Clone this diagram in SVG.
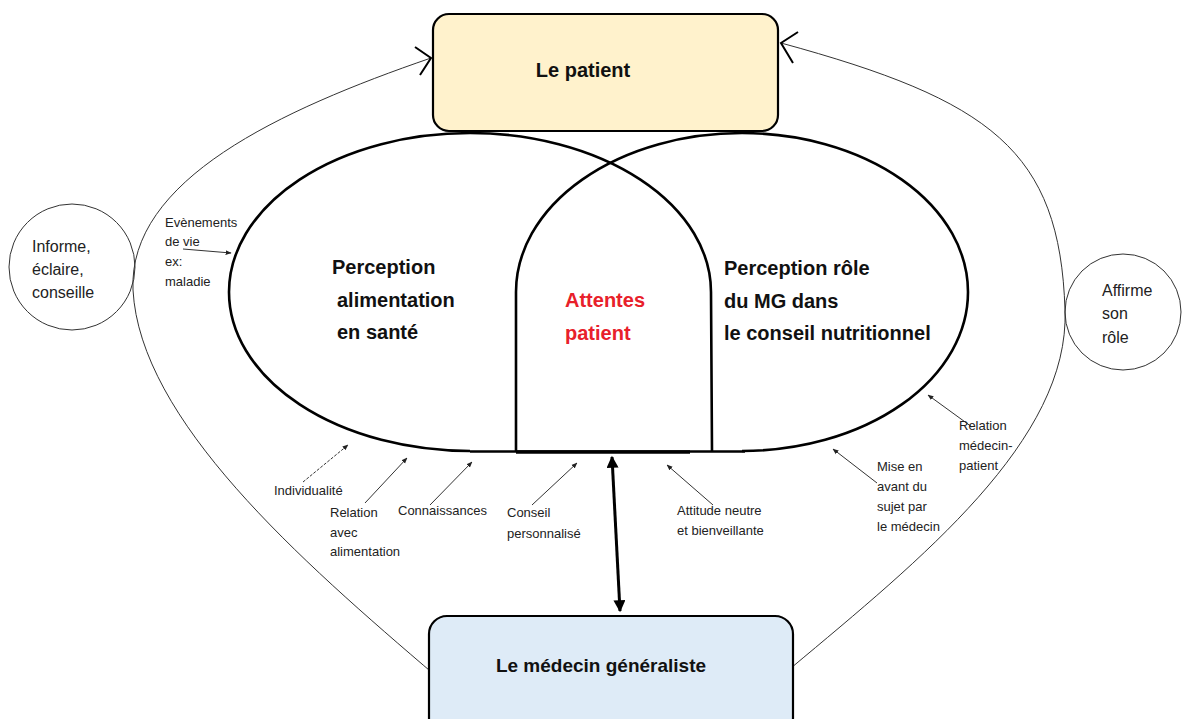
<svg xmlns="http://www.w3.org/2000/svg" width="1182" height="719" viewBox="0 0 1182 719">
<defs>
<style>
.box{stroke:#000;stroke-width:2.2}
.big{font-family:"Liberation Sans",Arial,sans-serif;font-weight:bold;font-size:20px;fill:#111}
.sm{font-family:"Liberation Sans",Arial,sans-serif;font-size:13px;fill:#222}
.md{font-family:"Liberation Sans",Arial,sans-serif;font-size:16px;fill:#222}
.thick{fill:none;stroke:#000;stroke-width:2.6}
.thin{fill:none;stroke:#333;stroke-width:1}
.lab{fill:none;stroke:#333;stroke-width:1}
</style>
<marker id="sa" viewBox="0 0 10 10" refX="9" refY="5" markerWidth="6" markerHeight="6" orient="auto" markerUnits="userSpaceOnUse">
<path d="M0,1 L10,5 L0,9 z" fill="#222"/>
</marker>
<marker id="ba" viewBox="0 0 10 10" refX="9" refY="5" markerWidth="16" markerHeight="12" orient="auto-start-reverse" markerUnits="userSpaceOnUse">
<path d="M0,0 L10,5 L0,10 z" fill="#000"/>
</marker>
</defs>
<rect width="1182" height="719" fill="#fff"/>

<g id="connectors">
<path class="thin" d="M436 676 C300 560,140 420,133 290 C128 180,280 110,431 58"/>
<path d="M415 47 L431 58 L420 75" fill="none" stroke="#000" stroke-width="2"/>
<path class="thin" d="M791 668 C920 560,1070 440,1065 310 C1060 150,990 100,781 43"/>
<path d="M798 32 L781 43 L793 63" fill="none" stroke="#000" stroke-width="2"/>
<line x1="612" y1="457" x2="620" y2="611" stroke="#000" stroke-width="3" marker-start="url(#ba)" marker-end="url(#ba)"/>
<line class="lab" x1="183" y1="249" x2="231" y2="253" marker-end="url(#sa)"/>
<line class="lab" x1="303" y1="482" x2="348" y2="445" stroke-dasharray="3 1.5" marker-end="url(#sa)"/>
<line class="lab" x1="365" y1="503" x2="407" y2="458" marker-end="url(#sa)"/>
<line class="lab" x1="430" y1="505" x2="472" y2="462" marker-end="url(#sa)"/>
<line class="lab" x1="532" y1="505" x2="577" y2="463" marker-end="url(#sa)"/>
<line class="lab" x1="713" y1="505" x2="667" y2="465" marker-end="url(#sa)"/>
<line class="lab" x1="877" y1="483" x2="833" y2="449" marker-end="url(#sa)"/>
<line class="lab" x1="972" y1="427" x2="928" y2="395" marker-end="url(#sa)"/>
</g>

<g id="circle-informe">
<circle cx="72" cy="267" r="63" fill="none" stroke="#333" stroke-width="1"/>
<text class="md" x="32" y="252">Informe,</text>
<text class="md" x="32" y="275">éclaire,</text>
<text class="md" x="32" y="298">conseille</text>
</g>

<g id="circle-affirme">
<circle cx="1123" cy="312" r="58" fill="none" stroke="#333" stroke-width="1"/>
<text class="md" x="1102" y="296">Affirme</text>
<text class="md" x="1102" y="319">son</text>
<text class="md" x="1102" y="343">rôle</text>
</g>

<g id="patient">
<rect class="box" x="433" y="14" width="345" height="117" rx="16" fill="#fff2cc"/>
<text class="big" x="583" y="77" text-anchor="middle">Le patient</text>
</g>

<g id="medecin">
<rect class="box" x="429" y="616" width="364" height="120" rx="18" fill="#deebf7"/>
<text class="big" x="601" y="672" text-anchor="middle" style="font-size:19px">Le médecin généraliste</text>
</g>

<g id="perception-alimentation">
<path class="thick" d="M470 451 A241 159 0 0 1 229 292 A241 159 0 0 1 711 292 L712 452"/>
<text class="big" x="332" y="274">Perception</text>
<text class="big" x="337" y="307">alimentation</text>
<text class="big" x="337" y="339">en santé</text>
</g>

<g id="perception-role">
<path class="thick" d="M516 452 L516 292 A226 159 0 0 1 968 292 A226 159 0 0 1 742 451"/>
<text class="big" x="724" y="275">Perception rôle</text>
<text class="big" x="724" y="308">du MG dans</text>
<text class="big" x="724" y="340">le conseil nutritionnel</text>
</g>

<g id="attentes">
<line x1="470" y1="451.5" x2="745" y2="451.5" stroke="#000" stroke-width="2.6"/>
<line x1="516" y1="452" x2="690" y2="452" stroke="#000" stroke-width="3.6"/>
<text class="big" x="565" y="307" fill="#e8202a" style="fill:#e8202a">Attentes</text>
<text class="big" x="565" y="340" style="fill:#e8202a">patient</text>
</g>

<g id="labels">
<text class="sm" x="165" y="227">Evènements</text>
<text class="sm" x="165" y="246">de vie</text>
<text class="sm" x="165" y="266">ex:</text>
<text class="sm" x="165" y="286">maladie</text>
<text class="sm" x="274" y="495">Individualité</text>
<text class="sm" x="330" y="517">Relation</text>
<text class="sm" x="330" y="537">avec</text>
<text class="sm" x="330" y="556">alimentation</text>
<text class="sm" x="398" y="515">Connaissances</text>
<text class="sm" x="507" y="517">Conseil</text>
<text class="sm" x="507" y="538">personnalisé</text>
<text class="sm" x="677" y="515">Attitude neutre</text>
<text class="sm" x="677" y="535">et bienveillante</text>
<text class="sm" x="877" y="471">Mise en</text>
<text class="sm" x="877" y="491">avant du</text>
<text class="sm" x="877" y="511">sujet par</text>
<text class="sm" x="877" y="531">le médecin</text>
<text class="sm" x="959" y="430">Relation</text>
<text class="sm" x="959" y="450">médecin-</text>
<text class="sm" x="959" y="470">patient</text>
</g>
</svg>
